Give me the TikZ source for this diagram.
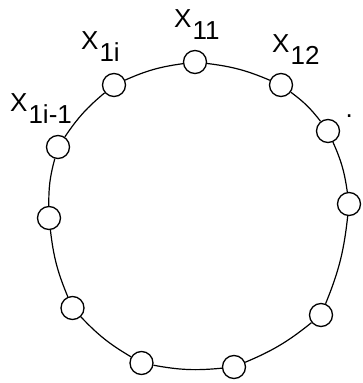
\documentclass[tikz,border=0pt]{standalone}
\usepackage{fontspec}
\setmainfont{Liberation Sans}
\usetikzlibrary{positioning}
\definecolor{ink}{HTML}{000000}

% label: X with lowered index
\newcommand{\xsub}[1]{X\kern1pt\raisebox{-12pt}{#1}}

\begin{document}
\begin{tikzpicture}[
  x=1pt, y=1pt,
  ring/.style={draw=ink, circle, minimum size=23pt, inner sep=0pt, line width=1.3pt},
  link/.style={draw=ink, line width=1.2pt, bend left=8},
  lab/.style={font=\fontsize{26}{26}\selectfont, text=ink, inner sep=0pt, anchor=base west},
]

% Picture area: 362 x 383 (pixels of the reference, y upward)
\useasboundingbox (0,0) rectangle (362,383);

% --- Beads, clockwise from the top ---
\node[ring] (b11) at (195,321) {};
\node[ring] (b12) at (281,298) {};
\node[ring] (b13) at (328,252) {};
\node[ring] (b14) at (349,179) {};
\node[ring] (b15) at (321,68) {};
\node[ring] (b16) at (234,16) {};
\node[ring] (b17) at (141.5,20) {};
\node[ring] (b18) at (72.5,75) {};
\node[ring] (b19) at (49,165) {};
\node[ring] (bim) at (58,236) {};
\node[ring] (bi) at (114,298) {};

% --- String between the beads ---
\draw[link] (b11) to (b12);
\draw[link] (b12) to (b13);
\draw[link] (b13) to (b14);
\draw[link] (b14) to (b15);
\draw[link] (b15) to (b16);
\draw[link] (b16) to (b17);
\draw[link] (b17) to (b18);
\draw[link] (b18) to (b19);
\draw[link] (b19) to (bim);
\draw[link] (bim) to (bi);
\draw[link] (bi) to (b11);

% --- Labels ---
\node[lab] (l11) at (174,355.5) {\xsub{11}};
\node[lab] (l12) at (272,330) {\xsub{12}};
\node[lab] (l1i) at (81,333) {\xsub{1i}};
\node[lab] (l1im) at (10,271) {\xsub{1i-1}};
\node[lab] (dot) at (345.5,265.5) {.};

\end{tikzpicture}
\end{document}
